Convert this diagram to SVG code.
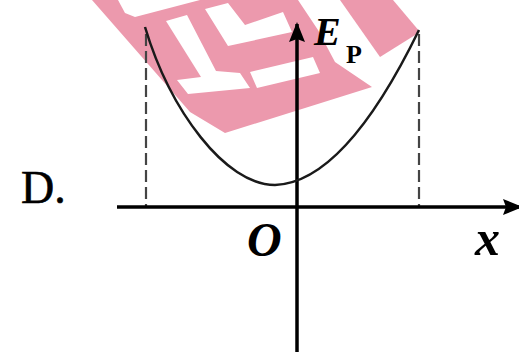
<svg xmlns="http://www.w3.org/2000/svg" width="519" height="352" viewBox="0 0 519 352">
  <style>
    .wm { fill: #ec99ad; }
    .wh { fill: #ffffff; }
    .axis { stroke: #000; stroke-width: 3.5; fill: none; }
    .guide { stroke: #444; stroke-width: 2.2; stroke-dasharray: 12 5; fill: none; }
    .curve { stroke: #1a1a1a; stroke-width: 2.5; fill: none; }
    .lbl { font-family: "Liberation Serif", "Times New Roman", serif; fill: #000; }
  </style>
  <defs>
    <marker id="arrow" viewBox="0 0 20 16" refX="18" refY="8" markerWidth="20" markerHeight="16" markerUnits="userSpaceOnUse" orient="auto">
      <path d="M0,0 L20,8 L0,16 L3,8 Z" fill="#000"/>
    </marker>
  </defs>
  <rect width="519" height="352" fill="#ffffff"/>

  <g id="watermark">
    <polygon class="wm" points="92,0 298,0 318,30 335,62 372,87 225,133 190,112"/>
    <polygon class="wm" points="340,0 393,0 420,32 380,57"/>
    <polygon class="wh" points="118,0 200,0 135,17 125,13"/>
    <polygon class="wh" points="166,21 187,15 216,71 240,73 250,88 188,94 177,80 201,77"/>
    <polygon class="wh" points="205,9 228,3 245,25 283,12 292,32 228,46"/>
    <polygon class="wh" points="250,72 313,57 320,73 257,88"/>
  </g>

  <g id="guides">
    <line class="guide" x1="146" y1="34" x2="146" y2="206"/>
    <line class="guide" x1="419" y1="34" x2="419" y2="206"/>
  </g>

  <g id="connectors">
    <line id="x-axis" class="axis" x1="117" y1="207" x2="521" y2="207" marker-end="url(#arrow)"/>
    <line id="y-axis" class="axis" x1="297" y1="352" x2="297" y2="24" marker-end="url(#arrow)"/>
  </g>

  <g id="curve">
    <path class="curve" d="M145,27 C170,110 225,185 275,185 C330,183 380,110 419,30"/>
  </g>

  <g id="labels">
    <text class="lbl" x="21" y="203" font-size="46" stroke="#000" stroke-width="0.6">D.</text>
    <text class="lbl" x="314" y="45" font-size="40" font-weight="bold" font-style="italic">E</text>
    <text class="lbl" x="346" y="63" font-size="26" font-weight="bold">P</text>
    <text class="lbl" x="247" y="256" font-size="48" font-weight="bold" font-style="italic">O</text>
    <text class="lbl" x="475" y="255" font-size="50" font-weight="bold" font-style="italic">x</text>
  </g>
</svg>
